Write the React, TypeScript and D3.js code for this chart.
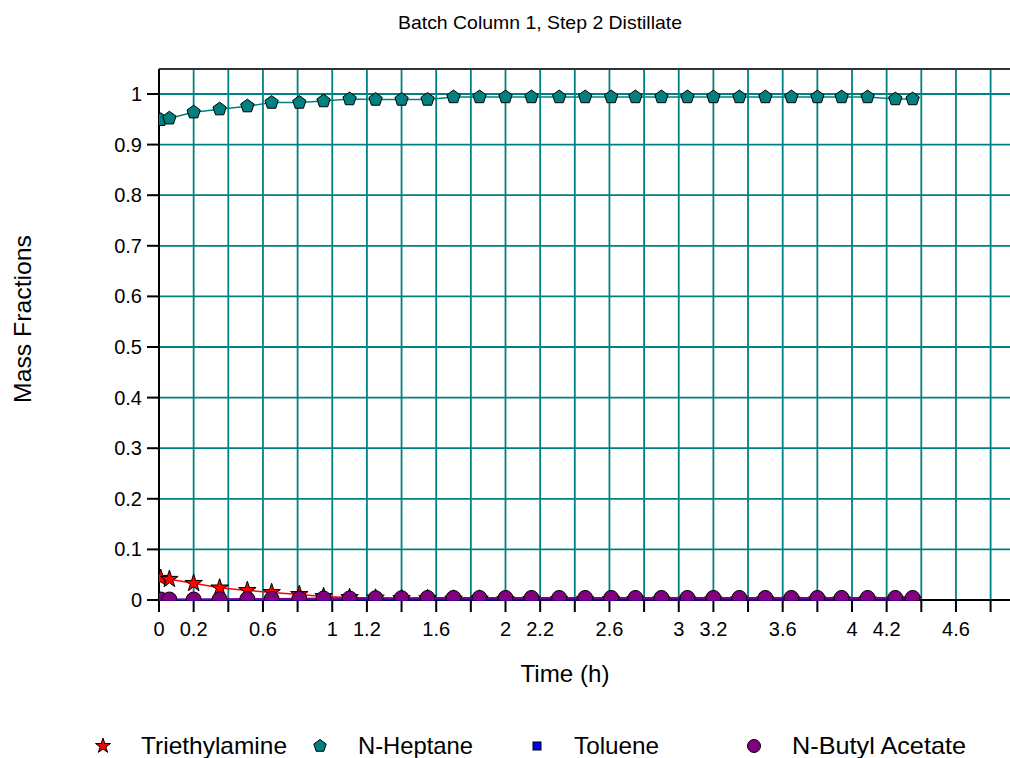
import React from "react";
import * as d3 from "d3";

const times = [0.01, 0.06, 0.2, 0.35, 0.51, 0.65, 0.81, 0.95, 1.1, 1.25, 1.4, 1.55, 1.7, 1.85, 2.0, 2.15, 2.31, 2.46, 2.61, 2.75, 2.9, 3.05, 3.2, 3.35, 3.5, 3.65, 3.8, 3.94, 4.09, 4.25, 4.35];
const triethylamine = [0.043, 0.041, 0.033, 0.024, 0.019, 0.015, 0.011, 0.007, 0.005, 0.004, 0.003, 0.003, 0.002, 0.002, 0.001, 0.001, 0.001, 0.001, 0.001, 0.001, 0.0005, 0.0005, 0.0005, 0.0005, 0.0005, 0.0005, 0.0005, 0.0005, 0.0005, 0.0005, 0.0005];
const heptane = [0.949, 0.952, 0.964, 0.97, 0.976, 0.983, 0.983, 0.986, 0.99, 0.989, 0.989, 0.989, 0.994, 0.994, 0.994, 0.994, 0.994, 0.994, 0.994, 0.994, 0.994, 0.994, 0.994, 0.994, 0.994, 0.994, 0.994, 0.994, 0.994, 0.99, 0.99];
const toluene = [0, 0, 0, 0, 0, 0, 0, 0, 0, 0, 0, 0, 0, 0, 0, 0, 0, 0, 0, 0, 0, 0, 0, 0, 0, 0, 0, 0, 0, 0, 0];
const butylAcetate = [0.001, 0.001, 0.001, 0.0015, 0.002, 0.002, 0.0025, 0.003, 0.003, 0.0035, 0.0035, 0.004, 0.004, 0.004, 0.004, 0.004, 0.004, 0.004, 0.004, 0.004, 0.004, 0.004, 0.004, 0.004, 0.004, 0.004, 0.004, 0.004, 0.004, 0.004, 0.004];

const xTickValues = d3.range(0, 4.81, 0.2);
const xTickLabels = ["0", "0.2", "0.6", "1", "1.2", "1.6", "2", "2.2", "2.6", "3", "3.2", "3.6", "4", "4.2", "4.6"];
const yTickValues = d3.range(0, 1.001, 0.1);

const title = "Batch Column 1, Step 2 Distillate";
const xTitle = "Time (h)";
const yTitle = "Mass Fractions";

const seriesNames = ["Triethylamine", "N-Heptane", "Toluene", "N-Butyl Acetate"];

const W = 1010;
const H = 758;
const font = "'Liberation Sans', Arial, sans-serif";
const TEAL = "#008080";

const x = d3.scaleLinear().domain([0, 5]).range([159, 159 + 5 * 173.25]);
const y = d3.scaleLinear().domain([0, 1]).range([600, 94]);
const plotTop = 69;
const plotBottom = y(0);
const plotLeft = x(0);

function pentagon(r: number) {
  const pts = d3.range(5).map((k) => {
    const a = -Math.PI / 2 + (k * 2 * Math.PI) / 5;
    return [r * Math.cos(a), r * Math.sin(a)];
  });
  return "M" + pts.map((p) => p[0].toFixed(2) + "," + p[1].toFixed(2)).join("L") + "Z";
}

const starPath = d3.symbol().type(d3.symbolStar).size(95)() as string;
const starLegend = d3.symbol().type(d3.symbolStar).size(70)() as string;
const pentPath = pentagon(7);
const pentLegend = pentagon(6.5);

type Kind = "star" | "pent" | "square" | "circle";

function Marker({ kind, cx, cy, fill, legend }: { kind: Kind; cx: number; cy: number; fill: string; legend?: boolean }) {
  if (kind === "star")
    return <path d={legend ? starLegend : starPath} transform={`translate(${cx},${cy})`} fill={fill} stroke="#000" strokeWidth={1} />;
  if (kind === "pent")
    return <path d={legend ? pentLegend : pentPath} transform={`translate(${cx},${cy})`} fill={fill} stroke="#000" strokeWidth={1} />;
  if (kind === "square") {
    const s = 8;
    return <rect x={cx - s / 2} y={cy - s / 2} width={s} height={s} fill={fill} stroke="#000" strokeWidth={1} />;
  }
  return <circle cx={cx} cy={cy} r={legend ? 6.5 : 7.5} fill={fill} stroke="#000" strokeWidth={1} />;
}

const series = [
  { name: seriesNames[0], values: triethylamine, color: "#ff0000", kind: "star" as Kind, width: 1.5 },
  { name: seriesNames[1], values: heptane, color: TEAL, kind: "pent" as Kind, width: 1.5 },
  { name: seriesNames[2], values: toluene, color: "#0000ff", kind: "square" as Kind, width: 2.5 },
  { name: seriesNames[3], values: butylAcetate, color: "#800080", kind: "circle" as Kind, width: 2 },
];

const legendItems = [
  { mx: 103, tx: 141, len: 146 },
  { mx: 320, tx: 358, len: 115 },
  { mx: 537, tx: 574, len: 85 },
  { mx: 754, tx: 792, len: 174 },
];

export default function App() {
  const line = d3
    .line<number>()
    .x((_, i) => x(times[i]))
    .y((d) => y(d));

  return (
    <svg width={W} height={H} style={{ position: "absolute", left: 0, top: 0, background: "#fff" }} fontFamily={font}>
      <defs>
        <clipPath id="plotClip">
          <rect x={plotLeft} y={plotTop} width={W - plotLeft} height={plotBottom - plotTop + 0.5} />
        </clipPath>
      </defs>
      <rect width={W} height={H} fill="#fff" />

      {/* title */}
      <text x={540} y={29} textAnchor="middle" fontSize={19} fill="#000" textLength={284} lengthAdjust="spacingAndGlyphs">
        {title}
      </text>

      {/* grid */}
      {yTickValues.filter((v) => v > 0.001).map((v, i) => (
        <line key={"hg" + i} x1={plotLeft} x2={W} y1={y(v)} y2={y(v)} stroke={TEAL} strokeWidth={1.8} />
      ))}
      {xTickValues.filter((v) => v > 0.001).map((v, i) => (
        <line key={"vg" + i} x1={x(v)} x2={x(v)} y1={plotTop} y2={plotBottom} stroke={TEAL} strokeWidth={1.8} />
      ))}

      {/* frame / axes */}
      <line x1={plotLeft} x2={W} y1={plotTop} y2={plotTop} stroke="#333" strokeWidth={2} />
      <line x1={plotLeft} x2={W} y1={plotBottom} y2={plotBottom} stroke="#000" strokeWidth={2} />
      <line x1={plotLeft} x2={plotLeft} y1={plotTop} y2={plotBottom + 12} stroke="#000" strokeWidth={2} />

      {/* y ticks */}
      {yTickValues.map((v, i) => (
        <g key={"yt" + i}>
          <line x1={plotLeft - 12} x2={plotLeft} y1={y(v)} y2={y(v)} stroke="#000" strokeWidth={2} />
          <text x={142} y={y(v) + 7} textAnchor="end" fontSize={20} fill="#000">
            {(+v.toFixed(1)).toString()}
          </text>
        </g>
      ))}

      {/* x ticks */}
      {xTickValues.map((v, i) => {
        const lab = (+v.toFixed(1)).toString();
        return (
          <g key={"xt" + i}>
            <line x1={x(v)} x2={x(v)} y1={plotBottom} y2={plotBottom + 12} stroke="#000" strokeWidth={2} />
            {xTickLabels.includes(lab) && (
              <text x={x(v)} y={636} textAnchor="middle" fontSize={20} fill="#000">
                {lab}
              </text>
            )}
          </g>
        );
      })}

      {/* axis titles */}
      <text x={565} y={682} textAnchor="middle" fontSize={24} fill="#000" textLength={89} lengthAdjust="spacingAndGlyphs">
        {xTitle}
      </text>
      <text
        transform={`translate(31,319) rotate(-90)`}
        textAnchor="middle"
        fontSize={24}
        fill="#000"
        textLength={168}
        lengthAdjust="spacingAndGlyphs"
      >
        {yTitle}
      </text>

      {/* series */}
      <g clipPath="url(#plotClip)">
        {series.map((s) => (
          <g key={s.name}>
            <path d={line(s.values) as string} fill="none" stroke={s.color} strokeWidth={s.width} />
            {s.values.map((v, i) => (
              <Marker key={i} kind={s.kind} cx={x(times[i])} cy={y(v)} fill={s.color} />
            ))}
          </g>
        ))}
      </g>

      {/* legend */}
      {series.map((s, i) => (
        <g key={"lg" + i}>
          <Marker kind={s.kind} cx={legendItems[i].mx} cy={746} fill={s.color} legend />
          <text
            x={legendItems[i].tx}
            y={754}
            fontSize={24}
            fill="#000"
            textLength={legendItems[i].len}
            lengthAdjust="spacingAndGlyphs"
          >
            {s.name}
          </text>
        </g>
      ))}
    </svg>
  );
}
